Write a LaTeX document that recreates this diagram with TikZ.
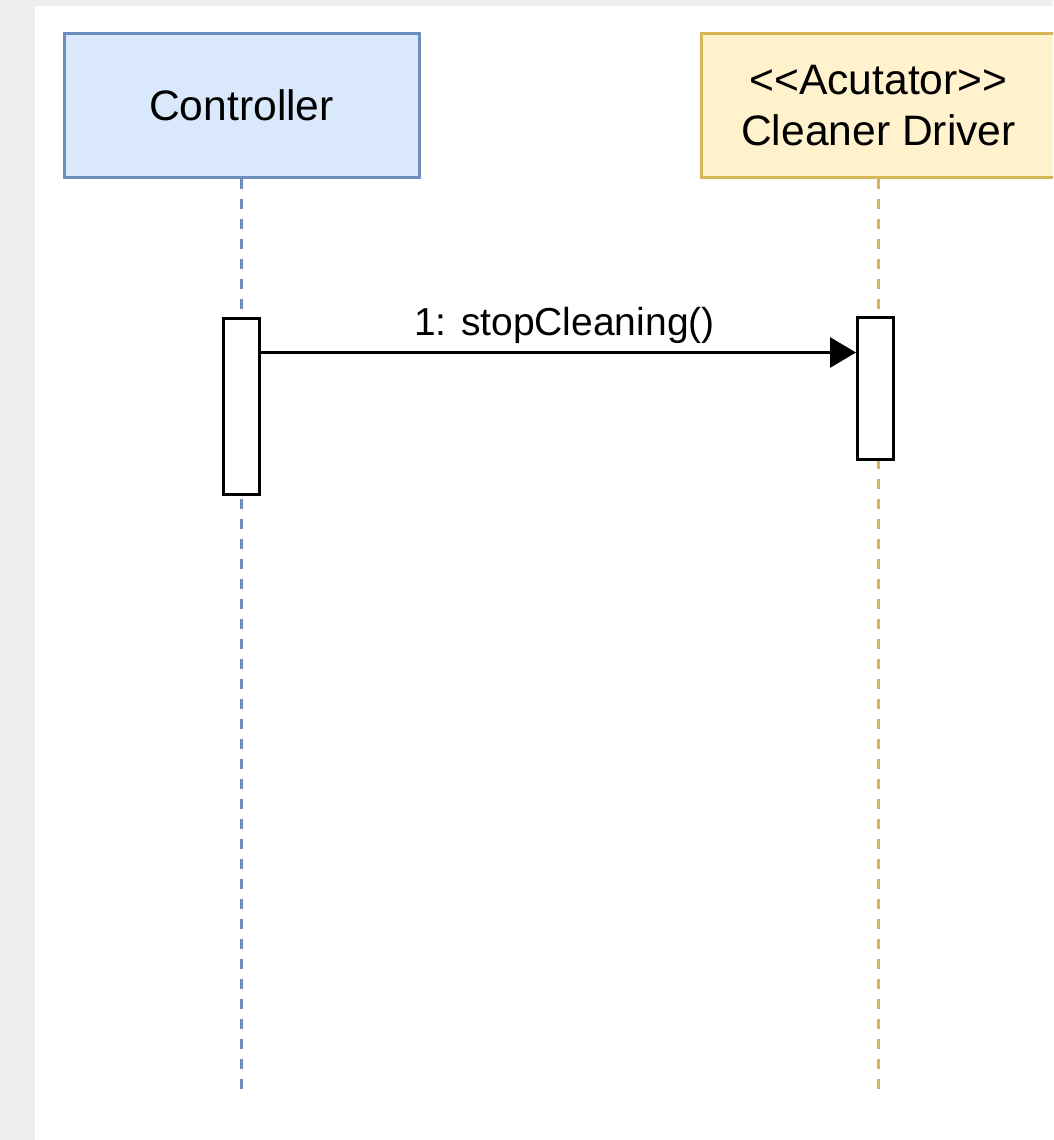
\documentclass[tikz,border=0pt]{standalone}
\usepackage{fontspec}
\setmainfont{Liberation Sans}
\usetikzlibrary{arrows.meta}
\definecolor{bggray}{HTML}{EEEEEE}
\definecolor{bluefill}{HTML}{DAE8FC}
\definecolor{bluedraw}{HTML}{6C8EBF}
\definecolor{yelfill}{HTML}{FFF2CC}
\definecolor{yeldraw}{HTML}{D6B656}
\tikzset{
  headbox/.style={rectangle, line width=3pt, minimum width=355pt, minimum height=143pt,
    inner sep=0pt, align=center, font=\fontsize{42.6}{51}\selectfont},
  actbox/.style={rectangle, draw=black, fill=white, line width=3pt, inner sep=0pt, minimum width=36pt},
  lifeline/.style={line width=2.8pt, dash pattern=on 10pt off 10pt},
  msgline/.style={line width=3pt, -{Triangle[length=26pt,width=30pt]}},
  msglabel/.style={font=\fontsize{39}{46}\selectfont, inner sep=0pt}
}
\begin{document}
\begin{tikzpicture}[x=1pt,y=-1pt]
\useasboundingbox (0,0) rectangle (1053,1140);
\clip (0,0) rectangle (1053,1140);
\fill[bggray] (0,0) rectangle (1053,1140);
\fill[white] (35,6) rectangle (1053,1140);
% heads
\node[headbox, draw=bluedraw, fill=bluefill] (ctrl) at (241.5,105.5) {Controller};
\node[headbox, draw=yeldraw, fill=yelfill] (drv) at (878.5,105.5) {<{}<Acutator>{}>\\Cleaner Driver};
% lifeline ends
\coordinate (ctrlend) at (241.5,1096);
\coordinate (drvend) at (878.5,1096);
\draw[lifeline, bluedraw] (ctrl.south) -- (ctrlend);
\draw[lifeline, yeldraw] (drv.south) -- (drvend);
% activations
\node[actbox, minimum height=176pt] (ca) at (241.5,406) {};
\node[actbox, minimum height=142pt] (da) at (875.5,388.5) {};
% message
\coordinate (m) at (0,352.5);
\draw[msgline] (ca.east |- m) -- (da.west |- m)
  node[msglabel, pos=0.51, anchor=base, yshift=17pt] (lbl) {1: stopCleaning()};
\end{tikzpicture}
\end{document}
